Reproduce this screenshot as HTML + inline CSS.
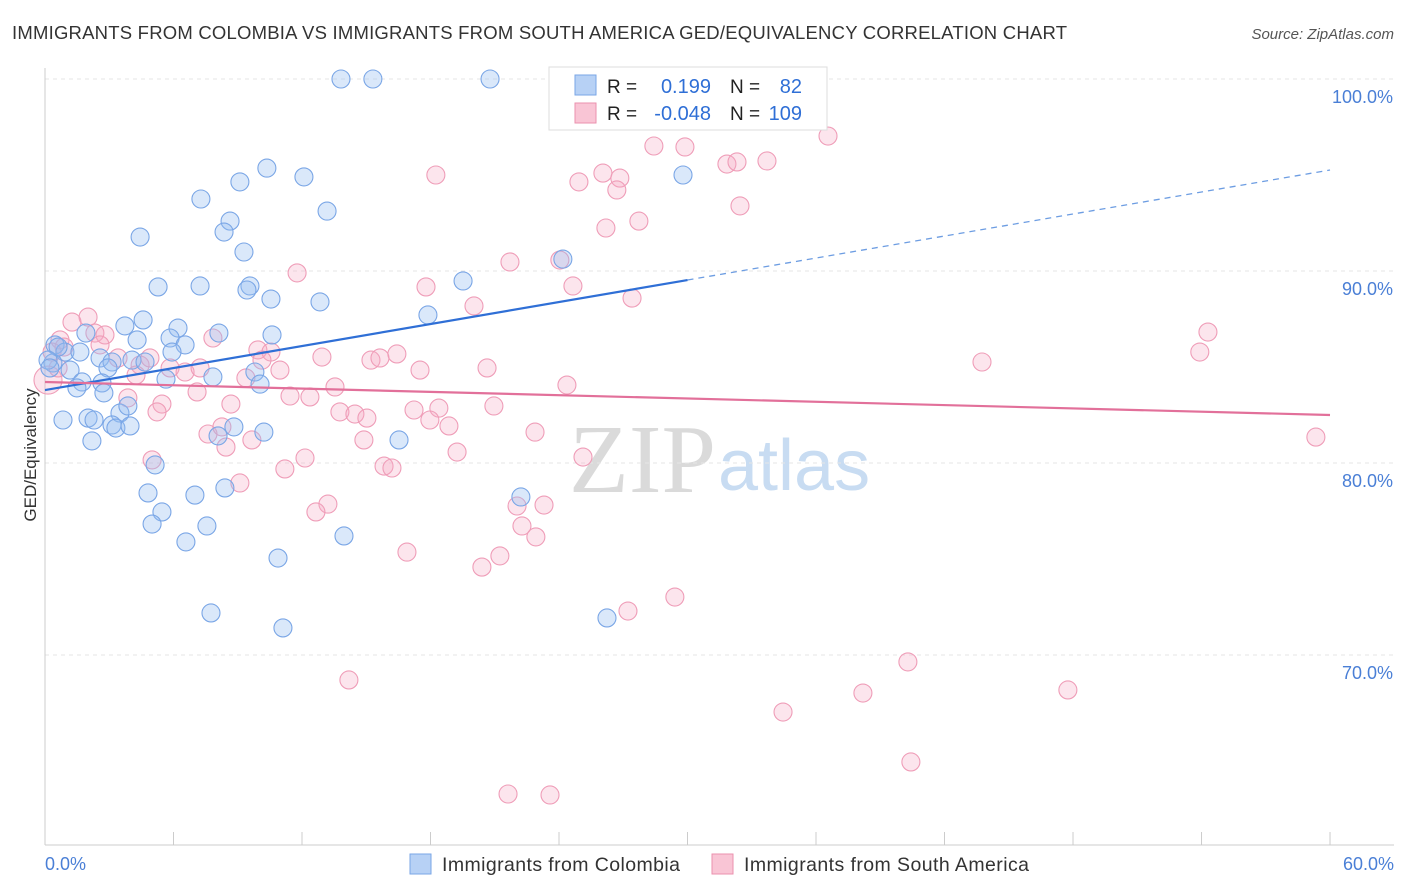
<!DOCTYPE html>
<html><head><meta charset="utf-8"><style>
body{margin:0;background:#fff;font-family:"Liberation Sans",sans-serif;}
svg{display:block}
</style></head><body>
<svg id="chart" width="1406" height="892" viewBox="0 0 1406 892">
<text x="12" y="39" font-size="18.5" fill="#333" textLength="1055">IMMIGRANTS FROM COLOMBIA VS IMMIGRANTS FROM SOUTH AMERICA GED/EQUIVALENCY CORRELATION CHART</text>
<text x="1394" y="39" font-size="15" fill="#555" font-style="italic" text-anchor="end">Source: ZipAtlas.com</text>
<text x="716" y="492" font-size="98" fill="#dadada" text-anchor="end" font-family="Liberation Serif,serif">ZIP</text>
<text x="718" y="490" font-size="72" fill="#c8dcf2">atlas</text>
<g id="grid"></g>
<g id="axes"></g>
<g id="pts"></g>
<g id="trends"></g>
<text x="36" y="455" font-size="17" fill="#333" text-anchor="middle" transform="rotate(-90 36 455)">GED/Equivalency</text>
<g>
<rect x="549" y="67" width="278" height="63" fill="#fff" stroke="#ddd"/>
<rect x="575" y="75" width="21" height="20" fill="#b7d1f5" stroke="#7aa6e6"/>
<rect x="575" y="103" width="21" height="20" fill="#f9c5d5" stroke="#eb91ae"/>
<text x="607" y="93" font-size="19" fill="#222">R =</text>
<text x="711" y="93" font-size="20" fill="#2f6fd6" text-anchor="end">0.199</text>
<text x="730" y="93" font-size="19" fill="#222">N =</text>
<text x="802" y="93" font-size="20" fill="#2f6fd6" text-anchor="end">82</text>
<text x="607" y="120" font-size="19" fill="#222">R =</text>
<text x="711" y="120" font-size="20" fill="#2f6fd6" text-anchor="end">-0.048</text>
<text x="730" y="120" font-size="19" fill="#222">N =</text>
<text x="802" y="120" font-size="20" fill="#2f6fd6" text-anchor="end">109</text>
</g>
<g>
<rect x="410" y="854" width="21" height="20" fill="#b7d1f5" stroke="#7aa6e6"/>
<text x="442" y="871" font-size="19.5" fill="#333" textLength="238">Immigrants from Colombia</text>
<rect x="712" y="854" width="21" height="20" fill="#f9c5d5" stroke="#eb91ae"/>
<text x="744" y="871" font-size="19.5" fill="#333" textLength="285">Immigrants from South America</text>
</g>
</svg>
<script>
const blueX=[13.82,15.31,20.78,29.79,10.36,12.09,9.10,7.28,8.64,13.17,4.44,8.36,9.29,5.28,7.24,9.57,9.43,10.55,12.84,19.52,24.18,17.88,4.58,3.73,6.21,5.84,6.54,8.12,10.60,4.30,1.91,0.47,0.93,1.63,2.57,3.13,4.06,4.67,5.93,2.94,1.17,0.37,0.61,5.65,7.84,9.80,10.04,1.73,1.49,2.66,2.75,0.84,2.01,2.29,3.50,3.87,3.13,3.31,3.97,2.19,8.08,8.82,10.22,16.53,5.14,4.81,7.0,8.4,5.46,5.0,7.56,6.58,13.96,10.88,22.22,7.75,11.11,26.24,0.14,0.23];
const blueY=[100,100,100,95.0,95.36,94.9,94.64,93.75,92.6,93.12,91.77,92.03,90.99,89.17,89.22,89.22,89.01,88.54,88.39,89.48,90.62,87.71,87.45,87.14,87.03,86.51,86.15,86.77,86.67,86.41,86.77,86.15,85.78,85.78,85.47,85.26,85.36,85.26,85.78,84.95,84.84,85.21,86.04,84.37,84.48,84.74,84.11,84.22,83.91,84.17,83.65,82.24,82.34,82.24,82.6,82.97,81.98,81.82,81.93,81.15,81.41,81.88,81.61,81.2,79.9,78.44,78.33,78.7,77.45,76.82,76.72,75.89,76.2,75.05,78.23,72.19,71.41,71.93,85.36,84.95];
const pinkX=[35.25,36.56,28.43,29.88,33.71,31.84,32.31,26.05,26.84,24.93,18.25,26.7,32.45,27.73,26.19,21.71,24.04,24.65,17.79,11.77,20.03,27.41,54.3,53.92,43.75,59.34,2.01,1.26,0.70,2.33,2.80,2.57,3.41,4.44,4.9,0.89,0.33,0.14,0.61,4.25,5.84,6.54,7.24,7.84,9.94,10.55,10.13,10.97,9.38,12.93,15.22,15.64,16.43,17.51,20.64,13.54,11.44,12.37,8.68,7.10,5.46,3.87,5.23,13.77,14.47,15.03,17.23,18.39,17.97,18.86,20.96,22.88,14.89,9.66,7.61,8.26,8.45,19.24,25.12,24.37,5.0,15.83,16.2,11.2,12.14,9.1,13.21,12.65,22.04,23.3,22.27,22.92,16.9,21.24,20.4,27.22,29.41,14.19,40.29,38.19,47.76,34.46,40.43,21.62,23.58];
const pinkY=[99.95,97.03,96.51,96.46,95.73,95.57,95.68,95.1,94.84,94.64,95.0,94.22,93.39,92.6,92.24,90.47,90.57,89.22,89.17,89.9,88.18,88.59,86.82,85.78,85.26,81.35,87.6,87.34,86.41,86.77,86.67,86.15,85.47,85.1,85.47,86.04,85.78,84.32,84.95,84.58,84.95,84.74,84.95,86.51,85.89,85.78,85.36,84.84,84.43,85.52,85.36,85.47,85.68,84.84,84.95,83.96,83.49,83.44,83.07,83.7,83.07,83.39,82.66,82.66,82.55,82.34,82.76,82.86,82.24,81.93,82.97,81.61,81.2,81.2,81.51,81.88,80.83,80.57,80.31,84.06,80.16,79.84,79.74,79.69,80.26,78.96,77.86,77.45,77.76,77.81,76.72,76.15,75.36,75.16,74.58,72.29,73.02,68.7,69.64,68.02,68.18,67.03,64.43,62.76,62.71];
const yTicks=[100,90,80,70];
const yTickLabels=["100.0%","90.0%","80.0%","70.0%"];
const blueTrend=[[0,83.8],[30,89.53],[60,95.26]];
const pinkTrend=[[0,84.22],[60,82.5]];
const NS="http://www.w3.org/2000/svg";
const X=v=>45+v*21.417, Y=v=>79+(100-v)*19.2;
function mk(t,a,p){const e=document.createElementNS(NS,t);for(const k in a)e.setAttribute(k,a[k]);p.appendChild(e);return e;}
const grid=document.getElementById('grid'),axes=document.getElementById('axes'),pts=document.getElementById('pts'),tr=document.getElementById('trends');
yTicks.forEach((t,i)=>{
 const l=mk('line',{x1:45,x2:1394,y1:Y(t),y2:Y(t),stroke:'#e6e6e6','stroke-width':1,'stroke-dasharray':'4,4'},grid);
 
 
 const tx=mk('text',{x:1393,y:Y(t)+24,'font-size':18,fill:'#4a7fd6','text-anchor':'end'},axes);
 tx.textContent=yTickLabels[i];
 
 
});
const ax=mk('line',{x1:45,x2:45,y1:68,y2:845,stroke:'#ccc'},axes);


const bx=mk('line',{x1:45,x2:1394,y1:845,y2:845,stroke:'#ccc'},axes);


for(let i=0;i<=10;i++){const t=mk('line',{x1:X(i*6),x2:X(i*6),y1:832,y2:845,stroke:'#ccc'},axes);
 
 }
[[0,"0.0%",'start',45],[60,"60.0%",'end',1394]].forEach(d=>{const t=mk('text',{x:d[3],y:870,'font-size':18,fill:'#4a7fd6','text-anchor':d[2]},axes);t.textContent=d[1];
 
 });
pinkX.forEach((v,i)=>{const c=mk('circle',{cx:X(v),cy:Y(pinkY[i]),r:(v<0.2?14:9),fill:'rgba(246,170,195,0.3)',stroke:'#ef9db8','stroke-width':1.1},pts);
 
 });
blueX.forEach((v,i)=>{const c=mk('circle',{cx:X(v),cy:Y(blueY[i]),r:9,fill:'rgba(150,188,240,0.35)',stroke:'#7aa6e6','stroke-width':1.1},pts);
 
 });
const b1=mk('line',{x1:X(blueTrend[0][0]),y1:Y(blueTrend[0][1]),x2:X(blueTrend[1][0]),y2:Y(blueTrend[1][1]),stroke:'#2f6fd6','stroke-width':2.2},tr);


const b2=mk('line',{x1:X(blueTrend[1][0]),y1:Y(blueTrend[1][1]),x2:X(blueTrend[2][0]),y2:Y(blueTrend[2][1]),stroke:'#6d9de2','stroke-width':1.3,'stroke-dasharray':'6,5'},tr);


const p1=mk('line',{x1:X(pinkTrend[0][0]),y1:Y(pinkTrend[0][1]),x2:X(pinkTrend[1][0]),y2:Y(pinkTrend[1][1]),stroke:'#e2709a','stroke-width':2.2},tr);


</script>
</body></html>
